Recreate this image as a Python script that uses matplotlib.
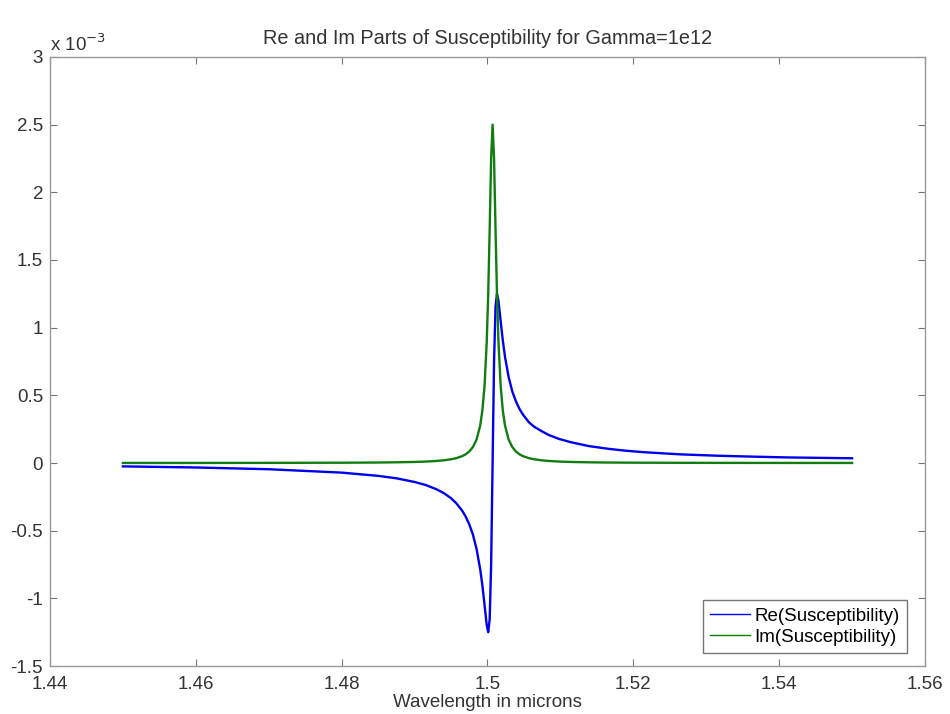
import numpy as np
import matplotlib.pyplot as plt

# wavelength samples [microns] and susceptibility values (units of 1e-3)
wavelength = [1.450, 1.460, 1.470, 1.480, 1.485, 1.4875, 1.490, 1.4915, 1.493, 1.494,
              1.495, 1.4957, 1.4965, 1.4970, 1.4975, 1.498, 1.4985, 1.499, 1.4993, 1.4996,
              1.4999, 1.5001, 1.5003, 1.5005, 1.5007, 1.5009, 1.5011, 1.5013, 1.5015, 1.5018,
              1.5021, 1.5024, 1.5029, 1.5034, 1.5039, 1.5044, 1.5049, 1.5057, 1.5064, 1.5074,
              1.5084, 1.5098, 1.5114, 1.5139, 1.5164, 1.5189, 1.5214, 1.5264, 1.5314, 1.5364,
              1.5414, 1.5500]
re_chi = [-0.025, -0.033, -0.046, -0.071, -0.095, -0.113, -0.140, -0.162, -0.194, -0.222,
          -0.260, -0.296, -0.350, -0.395, -0.453, -0.529, -0.635, -0.785, -0.905, -1.051,
          -1.200, -1.250, -1.154, -0.750, 0.000, 0.750, 1.154, 1.250, 1.200, 1.051,
          0.905, 0.785, 0.635, 0.529, 0.455, 0.398, 0.355, 0.300, 0.268, 0.236,
          0.207, 0.178, 0.154, 0.125, 0.106, 0.091, 0.080, 0.064, 0.054, 0.047,
          0.041, 0.035]
im_chi = [0.0004, 0.0005, 0.0010, 0.0021, 0.0036, 0.0052, 0.0078, 0.0106, 0.0151, 0.0199,
          0.0274, 0.0355, 0.050, 0.064, 0.085, 0.118, 0.173, 0.277, 0.388, 0.573,
          0.900, 1.250, 1.731, 2.250, 2.500, 2.250, 1.731, 1.250, 0.900, 0.573,
          0.388, 0.277, 0.173, 0.118, 0.085, 0.064, 0.050, 0.0355, 0.0274, 0.0199,
          0.0151, 0.0108, 0.0078, 0.0052, 0.0036, 0.0027, 0.0021, 0.0014, 0.0010, 0.0007,
          0.0005, 0.0004]

xticks = [1.44, 1.46, 1.48, 1.50, 1.52, 1.54, 1.56]
xticklabels = ['1.44', '1.46', '1.48', '1.5', '1.52', '1.54', '1.56']
yticks = [-1.5, -1, -0.5, 0, 0.5, 1, 1.5, 2, 2.5, 3]
yticklabels = ['-1.5', '-1', '-0.5', '0', '0.5', '1', '1.5', '2', '2.5', '3']

plt.rcParams['font.family'] = ['Liberation Sans', 'DejaVu Sans']
fig = plt.figure(figsize=(9.5, 7.14), dpi=100)
ax = fig.add_axes([0.0526, 0.0672, 0.9211, 0.8530])

ax.plot(wavelength, re_chi, color='#0000ee', lw=1.7, label='Re(Susceptibility)')
ax.plot(wavelength, im_chi, color='#107d10', lw=1.7, label='Im(Susceptibility)')

ax.set_xlim(1.44, 1.56)
ax.set_ylim(-1.5, 3)
ax.set_xticks(xticks)
ax.set_xticklabels(xticklabels)
ax.set_yticks(yticks)
ax.set_yticklabels(yticklabels)
ax.tick_params(direction='in', top=True, right=True, length=5, width=0.8,
               color='#777777', labelsize=13.5, labelcolor='#333333')
ax.tick_params(axis='x', pad=7)
ax.tick_params(axis='y', pad=5)
for s in ax.spines.values():
    s.set_color('#999999')
    s.set_linewidth(1.0)

ax.set_title('Re and Im Parts of Susceptibility for Gamma=1e12', fontsize=14.3,
             color='#333333', pad=9)
ax.set_xlabel('Wavelength in microns', fontsize=13.5, color='#333333', labelpad=1)
ax.text(0.0, 1.004, r'x 10$^{-3}$', transform=ax.transAxes, fontsize=13.5,
        color='#333333', ha='left', va='bottom')

leg = ax.legend(loc='lower right', fontsize=13.5, handlelength=2.1, handletextpad=0.25,
                borderpad=0.4, labelspacing=0.2, fancybox=False, borderaxespad=0,
                bbox_to_anchor=(0.9794, 0.021))
leg.get_frame().set_edgecolor('#555555')
leg.get_frame().set_linewidth(1.0)
for line in leg.get_lines():
    line.set_linewidth(1.0)

fig.savefig('out.png', dpi=100)
